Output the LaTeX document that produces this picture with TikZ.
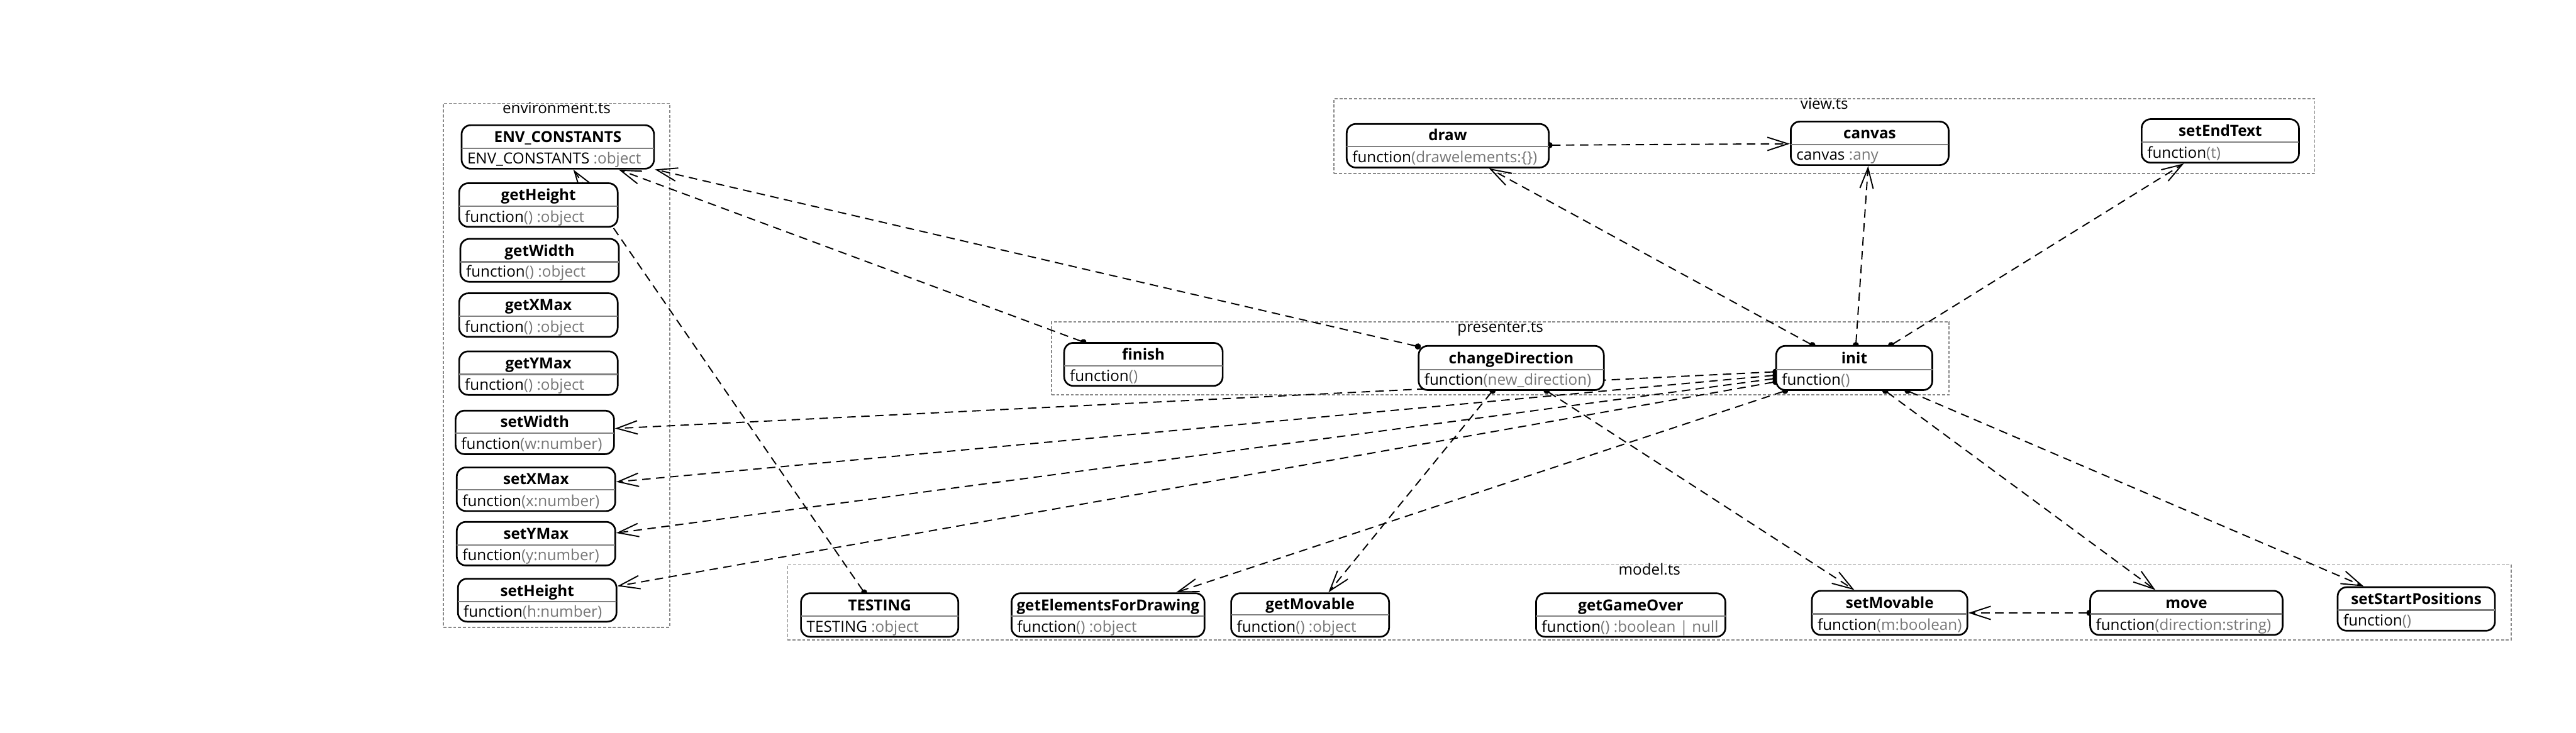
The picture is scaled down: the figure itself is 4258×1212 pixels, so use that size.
\documentclass[tikz,border=0pt]{standalone}
\usepackage{fontspec}
\setmainfont{Open Sans}
\usetikzlibrary{arrows.meta,fit,calc}
\pgfdeclarelayer{back}
\pgfdeclarelayer{mid}
\pgfsetlayers{back,mid,main}
\definecolor{typegrey}{HTML}{777777}
\definecolor{framegrey}{HTML}{888888}
\definecolor{sepgrey}{HTML}{808080}
\newcommand\ty[1]{\textcolor{typegrey}{#1}}
\newcommand\umlbox[8]{%
  \node[umlnode, fit={(#2,#3) (#4,#5)}] (#1) {};
  \draw[sepline] (#2,#6) -- (#4,#6);
  \node[titletext] (#1-title) at ({(#2+#4)/2},#6-9.5) {#7};
  \node[attrtext] (#1-attr) at (#2+9,#5-8) {#8};
}
\newcommand\pkgframe[6]{%
  \node[pkgbox, fit={(#2,#3) (#4,#5)}] (#1) {};
  \node[pkglabel] (#1-label) at ({(#2+#4)/2},#3+17) {#6};
}
\begin{document}
\begin{tikzpicture}[x=0.5pt,y=-0.5pt,
  font=\fontsize{12.6}{15}\selectfont,
  umlnode/.style={draw=black, line width=1.4pt, fill=white, rounded corners=7.5pt, inner sep=0pt},
  sepline/.style={draw=sepgrey, line width=1.2pt},
  titletext/.style={anchor=base, inner sep=0pt, font=\fontsize{12.6}{15}\selectfont\bfseries},
  attrtext/.style={anchor=base west, inner sep=0pt},
  pkgbox/.style={draw=framegrey, line width=1pt, dash pattern=on 2.5pt off 1.5pt, inner sep=0pt},
  pkglabel/.style={anchor=base, inner sep=0pt},
  conn/.style={draw=black, line width=1pt, dash pattern=on 7pt off 4.5pt,
    {Circle[length=5pt,width=5pt]}-{Straight Barb[length=17pt,width=11pt,line width=1pt]},
    shorten <=-2.5pt}
]
\useasboundingbox (0,0) rectangle (4258,1212);

\begin{pgfonlayer}{back}
\pkgframe{envpkg}{733}{171}{1107}{1037}{environment.ts}
\pkgframe{viewpkg}{2205}{163}{3826}{287}{view.ts}
\pkgframe{prespkg}{1738}{532}{3222}{653}{presenter.ts}
\pkgframe{modelpkg}{1302}{934}{4151}{1058}{model.ts}
\end{pgfonlayer}

% environment.ts
\umlbox{envc}{763}{207}{1081}{279}{245}{ENV\_CONSTANTS}{ENV\_CONSTANTS \ty{:object}}
\umlbox{getHeight}{759}{303}{1021}{375}{341}{getHeight}{function\ty{() :object}}
\umlbox{getWidth}{761}{395}{1023}{466}{433}{getWidth}{function\ty{() :object}}
\umlbox{getXMax}{759}{485}{1021}{557}{523}{getXMax}{function\ty{() :object}}
\umlbox{getYMax}{759}{581}{1021}{653}{619}{getYMax}{function\ty{() :object}}
\umlbox{setWidth}{753}{679}{1015}{751}{716}{setWidth}{function\ty{(w:number)}}
\umlbox{setXMax}{755}{773}{1017}{845}{810}{setXMax}{function\ty{(x:number)}}
\umlbox{setYMax}{755}{863}{1017}{935}{901}{setYMax}{function\ty{(y:number)}}
\umlbox{setHeight}{757}{957}{1019}{1028}{995}{setHeight}{function\ty{(h:number)}}

% view.ts
\umlbox{draw}{2226}{205}{2560}{277}{242}{draw}{function\ty{(drawelements:\{\})}}
\umlbox{canvas}{2960}{201}{3221}{273}{239}{canvas}{canvas \ty{:any}}
\umlbox{setEndText}{3540}{197}{3800}{269}{235}{setEndText}{function\ty{(t)}}

% presenter.ts
\umlbox{finish}{1759}{567}{2021}{638}{605}{finish}{function\ty{()}}
\umlbox{changeDirection}{2345}{572}{2651}{645}{611}{changeDirection}{function\ty{(new\_direction)}}
\umlbox{init}{2936}{572}{3194}{645}{611}{init}{function\ty{()}}

% model.ts
\umlbox{TESTING}{1324}{981}{1584}{1053}{1019}{TESTING}{TESTING \ty{:object}}
\umlbox{getElementsForDrawing}{1672}{981}{1991}{1053}{1019}{getElementsForDrawing}{function\ty{() :object}}
\umlbox{getMovable}{2035}{981}{2296}{1053}{1017}{getMovable}{function\ty{() :object}}
\umlbox{getGameOver}{2539}{981}{2852}{1053}{1019}{getGameOver}{function\ty{() :boolean | null}}
\umlbox{setMovable}{2995}{977}{3252}{1050}{1015}{setMovable}{function\ty{(m:boolean)}}
\umlbox{move}{3455}{977}{3773}{1050}{1015}{move}{function\ty{(direction:string)}}
\umlbox{setStartPositions}{3864}{971}{4124}{1043}{1009}{setStartPositions}{function\ty{()}}

\begin{pgfonlayer}{mid}
\draw[conn] (finish) -- (envc);
\draw[conn] (changeDirection) -- (envc);
\draw[conn] (TESTING) -- (envc);
\draw[conn] (draw) -- (canvas);
\draw[conn] (init) -- (draw);
\draw[conn] (init) -- (canvas);
\draw[conn] (init) -- (setEndText);
\draw[conn] (init) -- (setWidth);
\draw[conn] (init) -- (setXMax);
\draw[conn] (init) -- (setYMax);
\draw[conn] (init) -- (setHeight);
\draw[conn] (init) -- (getElementsForDrawing);
\draw[conn] (init) -- (move);
\draw[conn] (init) -- (setStartPositions);
\draw[conn] (changeDirection) -- (getMovable);
\draw[conn] (changeDirection) -- (setMovable);
\draw[conn] (move) -- (setMovable);
\end{pgfonlayer}
\end{tikzpicture}
\end{document}
